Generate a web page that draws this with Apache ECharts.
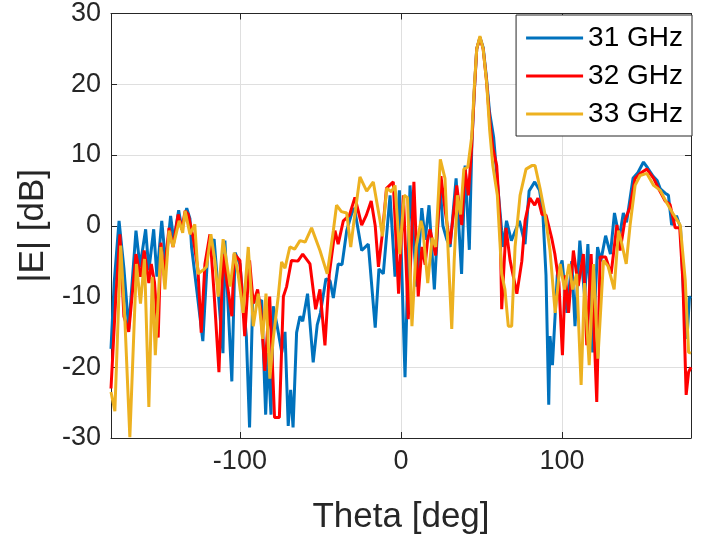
<!DOCTYPE html>
<html>
<head>
<meta charset="utf-8">
<script src="https://cdn.jsdelivr.net/npm/echarts@6/dist/echarts.min.js"></script>
<style>html,body{margin:0;padding:0;background:#fff}#c{width:705px;height:540px}</style>
</head>
<body>
<div id="c"></div>
<script>
// ---- data ----
const seriesNames = ['31 GHz', '32 GHz', '33 GHz'];
const xTickLabels = [-100, 0, 100];
const yTicks = [-30, -20, -10, 0, 10, 20, 30];

const theta31 = [-180,-178,-175,-172,-169,-164.5,-162,-158.5,-156.5,-153.5,-151.5,-148.5,-146,-143,-141,-138,-136,-133,-131,-130,-126.5,-123,-120,-116,-110.5,-109.3,-105,-103,-100,-96,-94,-92,-89,-86.5,-84,-82.6,-80.7,-79.3,-77,-74,-72,-70,-68.5,-67,-64.8,-62.7,-61,-58,-54.5,-52,-50,-46.6,-44,-42,-39,-36.6,-33.7,-29.6,-28.6,-24.4,-20.3,-16,-13.7,-11,-6.8,-3.7,-1,2.5,5.6,9.8,12.9,15,17.4,20.7,24.2,26,28.5,30.5,34.2,37.6,39.8,42.4,44,45.5,47,49,51,53,55,57.5,60,62.5,63.5,65.5,68.5,73.5,77,79.5,83,86,88,90,91.7,92.5,94,97,100,103,106,108,111,114,116,119,122,124,127,130,132.5,135.5,138,140,144,147,150.5,153,156.5,159,161,164,166,168,171,173.5,175.4,177.5,179,180];
const val31 = [-17.4,-8,0.7,-6,-14.6,-0.7,-5.8,-0.5,-6.3,-0.5,-7.2,0.7,-5.4,1.4,-2.1,2.2,-0.5,2.5,1,-3,-9.6,-16.3,-4,-1.9,-18,-2.1,-22,-3.8,-5.4,-15.6,-28.5,-10,-11,-10.5,-26.7,-18,-26.7,-11.4,-14,-17.9,-15,-28.3,-23.2,-28.5,-15.1,-12.8,-13.5,-9.6,-19.3,-14,-12.3,-7.5,-7.8,-10.2,-5.4,-5.5,-0.7,2.5,2.1,-3.5,-2.6,-14.4,-6.1,-6.8,4.3,-7.2,5,-21.4,5.7,-8.6,2.5,-2,2.9,-9,6,0,-2,-3,6.7,-6.8,8.5,-3.4,11.8,19,25,26.6,25.2,21,16,12.5,5.7,-0.7,-3,0.7,-2.1,0.7,-2.6,4.9,6.2,5,2,-7,-25.3,-15.6,-19.7,-7,-4.9,-12.3,-5,-14.2,-2.1,-10,-2.6,-17.9,-3,-5,-1.4,-4,1.8,-1.7,1.8,0.5,6.7,7.5,9,8.2,7,6.4,5.2,4.6,4.3,0.1,1.4,-0.3,-10,-16,-10.2,-10];

const theta32 = [-180,-177,-174.5,-172,-169,-164.5,-161.7,-159.4,-156.5,-155,-153,-150.7,-149,-147,-144,-141.5,-138.3,-136,-134,-132,-129,-126,-124,-121.7,-118.6,-116,-113,-110.4,-108,-105,-103.5,-100,-97,-94,-91.7,-89,-87,-84.5,-81.5,-78.5,-75.5,-73,-71,-68,-64,-61,-56.5,-53,-50.3,-47.2,-44.5,-41,-39,-35.8,-32,-28.6,-24.4,-21.5,-18.5,-16,-14,-11.5,-9,-4.8,-1.5,1.5,4.5,8,10.7,13,15,16.5,18,21.5,24.8,27.5,30.4,34.6,37.7,39.8,41.8,43.9,45.5,47,49,51,53,55,57,59.4,61.5,62.5,65.2,67.7,71.9,75,77,80,83,85,87.5,90,93.5,95.5,98,100.2,102,104,107,110,113.2,115.3,118,121.5,123.6,127,130.4,134,136,139,142,145.3,149,152.6,156.8,160,164,167,170.2,173,175,177,178.5,180];
const val32 = [-23,-10,-1.2,-12.8,-15,-4,-7.2,-3.5,-8.1,-5.4,-8,-15.8,-2.4,-7,-0.3,-3,1.6,-0.5,2.1,1.6,-1.7,-6.3,-15.1,-5.4,-1.2,-9.6,-20.7,-4,-8,-12.8,-4,-4.9,-15.6,-4.9,-11,-9,-12,-20.5,-10,-27.1,-27.1,-10,-8.6,-4.9,-5,-4,-5.4,-11.8,-9,-16.9,-6.8,-0.7,-2.6,0.7,1.5,4,0.1,1.5,3.5,0,-5.8,-1,5.3,6.2,-9.6,4.3,-13.2,6.2,-10,-3,-5.5,-2,-0.5,-4.2,7,2,-2.6,5.7,0.1,8,4.3,11.3,19,25,26.6,25,20.7,15,11,8.5,0.7,-11.8,-0.3,-4.9,-9.6,-5,0.7,3.9,2.9,3.9,1.6,1.5,-1.7,-4,-8,-18.3,-7,-12.3,-3.5,-8.5,-4,-16.9,-4,-24.9,-4.4,-4.4,-6.8,0.1,-3.5,0.8,2.5,6.7,7.5,8,6.7,5.2,3.5,3,-0.3,-0.3,-8,-23.9,-20.7,-20];

const theta33 = [-180,-177.6,-174,-171.4,-168.3,-164.2,-161.7,-159.2,-156.5,-154.4,-152.5,-149,-146.5,-144,-141.5,-137.7,-135.5,-134,-131,-128,-126,-123,-120.7,-118,-115.5,-113.5,-110.4,-108,-106,-103.5,-101,-98,-94.8,-91.7,-88.6,-85.9,-83.8,-81.4,-79.3,-76.2,-74.1,-72,-69,-66,-62.7,-59.5,-55.5,-50.3,-45.8,-42,-40,-37,-33.7,-31.2,-29,-25.5,-21.3,-17.2,-13,-11.5,-8.9,-6,-3.7,-0.8,2,4,6.8,9.4,12.4,13.5,16.6,19.3,21.5,24.4,27.3,29.4,31.5,33,35,37,39,41.5,43.9,45.5,47,49,51,53.2,55,57,59.8,62.5,64.5,66.6,68.7,70.8,73.9,77.6,81.2,83.2,86.3,89.4,92.5,95.7,98.8,101.5,104.3,106.5,109,111.8,113.9,116.8,119.5,122.2,125.7,128.5,132.3,135,137,139.8,142.2,145.3,148.4,152.6,156.8,160.9,165,169.1,173.3,176.4,178.5,180];
const val33 = [-23.5,-26.2,-2.8,-13.2,-29.9,-5.4,-11,-4.7,-25.6,-7.2,-18.3,-3,-9,-0.7,-3,0.7,-1,2.1,-1.2,0.2,-6.8,-6.3,-5.8,-1.2,-5,-10,-1.9,-5.5,-8.6,-3.8,-7,-12.3,-3,-14.2,-9.6,-16,-9.6,-21.6,-16,-10,-5.1,-6,-3,-3.3,-2.1,-2.3,-0.3,-3.5,-6.8,-0.7,2.9,2,1.8,-3,1,6.9,4.9,6.2,0.7,-1.5,5.3,4.8,5.7,-4,4.3,4,-14.2,-3,0.7,-0.3,-8.1,-1.7,-3,9.4,6.7,-4.4,-14.6,-5,4.3,1.6,8,8.3,12.6,19.6,25,26.8,25,20.1,13.6,8.5,4.3,-6.8,-9,-14.2,-14.2,-3,4.3,8,8.5,8.5,5.3,1.6,-3.5,-12.3,-5.4,-9,-5.4,-9,-6.8,-22.5,-8.1,-19.7,-5.4,-18.8,-4.9,-5.7,-9,-0.7,-2.5,-5.4,0.1,5.7,7.1,7.4,5.7,5,3.2,1.6,0.1,-7.6,-17.9,-18];

// ---- chart ----
const colors = ['#0072BD', '#FF0000', '#EDB120'];
const thetas = [theta31, theta32, theta33];
const vals = [val31, val32, val33];
const FONT = '"Liberation Sans", Arial, Helvetica, sans-serif';
const TXT = '#262626';

const chart = echarts.init(document.getElementById('c'), null, {renderer: 'canvas'});

const series = seriesNames.map((name, k) => ({
  name: name,
  type: 'line',
  data: thetas[k].map((t, i) => [t, vals[k][i]]),
  symbol: 'none',
  smooth: false,
  lineStyle: {width: 3, color: colors[k]},
  itemStyle: {color: colors[k]},
  z: 2 + k,
  animation: false
}));

const xCommon = {
  type: 'value', min: -180, max: 180,
  axisLine: {show: true, onZero: false, lineStyle: {color: TXT, width: 1}},
  axisTick: {show: true, inside: true, length: 6, customValues: xTickLabels, lineStyle: {color: TXT}},
};
const yCommon = {
  type: 'value', min: yTicks[0], max: yTicks[yTicks.length - 1], interval: 10,
  axisLine: {show: true, onZero: false, lineStyle: {color: TXT, width: 1}},
  axisTick: {show: true, inside: true, length: 6, lineStyle: {color: TXT}},
};

chart.setOption({
  backgroundColor: '#fff',
  animation: false,
  color: colors,
  grid: {left: 111, right: 14, top: 12, bottom: 96, containLabel: false},
  legend: {
    orient: 'vertical',
    right: 13, top: 15,
    data: seriesNames,
    itemWidth: 57, itemHeight: 3,
    itemGap: 10,
    padding: [9, 9, 8, 10],
    backgroundColor: '#fff',
    borderColor: TXT, borderWidth: 1,
    borderRadius: 0,
    textStyle: {fontFamily: FONT, fontSize: 28, color: '#000'},
    icon: 'rect'
  },
  xAxis: [
    Object.assign({}, xCommon, {
      position: 'bottom',
      name: 'Theta [deg]', nameLocation: 'middle', nameGap: 62,
      nameTextStyle: {fontFamily: FONT, fontSize: 35, color: TXT},
      axisLabel: {show: true, customValues: xTickLabels, fontFamily: FONT, fontSize: 27, color: TXT, margin: 10},
      splitLine: {show: true, lineStyle: {color: '#dfdfdf', width: 1}}
    }),
    Object.assign({}, xCommon, {
      position: 'top',
      axisLabel: {show: false},
      splitLine: {show: false}
    })
  ],
  yAxis: [
    Object.assign({}, yCommon, {
      position: 'left',
      name: '|E| [dB]', nameLocation: 'middle', nameGap: 60, nameRotate: 90,
      nameTextStyle: {fontFamily: FONT, fontSize: 35, color: TXT},
      axisLabel: {fontFamily: FONT, fontSize: 27, color: TXT, margin: 10},
      splitLine: {show: true, lineStyle: {color: '#dfdfdf', width: 1}}
    }),
    Object.assign({}, yCommon, {
      position: 'right',
      axisLabel: {show: false},
      splitLine: {show: false}
    })
  ],
  series: series
});
</script>
</body>
</html>
